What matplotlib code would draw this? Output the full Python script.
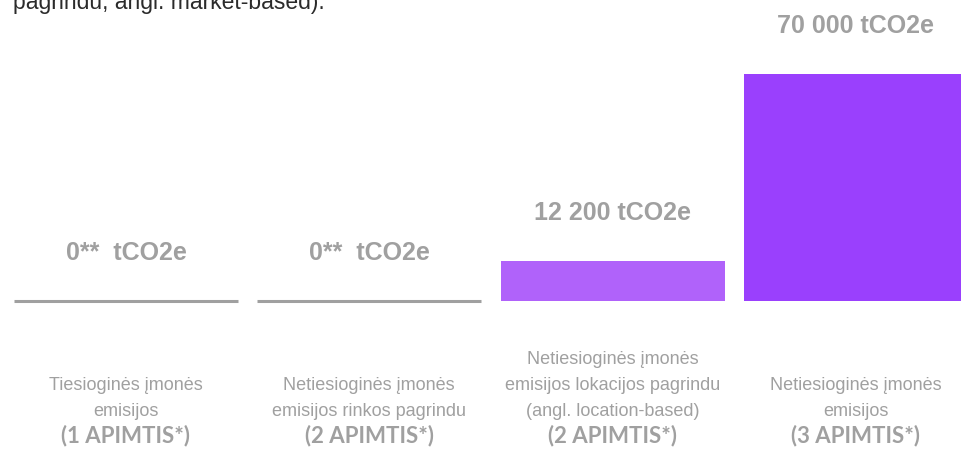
import matplotlib
matplotlib.use("Agg")
import matplotlib.pyplot as plt
import matplotlib.transforms as mtransforms

# ---- data ----
categories = ["1 APIMTIS", "2 APIMTIS (rinkos)", "2 APIMTIS (lokacijos)", "3 APIMTIS"]
values = [0, 0, 12200, 70000]
value_labels = ["0**  tCO2e", "0**  tCO2e", "12 200 tCO2e", "70 000 tCO2e"]
category_lines = [
    ["Tiesioginės įmonės", "emisijos"],
    ["Netiesioginės įmonės", "emisijos rinkos pagrindu"],
    ["Netiesioginės įmonės", "emisijos lokacijos pagrindu", "(angl. location-based)"],
    ["Netiesioginės įmonės", "emisijos"],
]
scope_labels = ["(1 APIMTIS*)", "(2 APIMTIS*)", "(2 APIMTIS*)", "(3 APIMTIS*)"]
top_text = "pagrindu, angl. market-based)."

bar_colors = ["#A0A0A0", "#A0A0A0", "#B062FA", "#9A40FD"]
gray = "#A0A0A0"

W, H = 962, 449
fig = plt.figure(figsize=(W / 100, H / 100), dpi=100)
fig.patch.set_facecolor("white")

# axes placement (pixels)
spacing = 243.3
left_px = 126 - spacing / 2
ax = fig.add_axes([left_px / W, (H - 301) / H, 4 * spacing / W, (301 - 74) / H])
ax.set_xlim(-0.5, 3.5)
ax.set_ylim(0, 70000)
ax.axis("off")

x = list(range(len(categories)))
width = 224 / spacing
ax.bar(x, values, width=width, color=bar_colors, clip_on=False)
# zero-valued bars shown as a thin gray baseline
for xi, v, c in zip(x, values, bar_colors):
    if v == 0:
        ax.hlines(v, xi - width / 2, xi + width / 2, colors=c, linewidth=2.2,
                  capstyle="butt", clip_on=False)

for xi, v, lab in zip(x, values, value_labels):
    ax.annotate(lab, (xi, v), xytext=(0, 29.5), textcoords="offset points",
                ha="center", va="baseline", fontsize=18, fontweight="bold",
                color=gray, family="Liberation Sans", annotation_clip=False)

trans = mtransforms.blended_transform_factory(ax.transData, fig.transFigure)
bold_base = 442
line_h = 25.5
for xi, lines, scope in zip(x, category_lines, scope_labels):
    ax.text(xi, (H - bold_base) / H, scope, transform=trans, ha="center",
            va="baseline", fontsize=16, fontweight="bold", color=gray,
            family="Lato", clip_on=False)
    n = len(lines)
    for k, ln in enumerate(lines):
        y_px = bold_base - 1 - line_h * (n - k)
        ax.text(xi, (H - y_px) / H, ln, transform=trans, ha="center",
                va="baseline", fontsize=13, color=gray,
                family="Liberation Sans", clip_on=False)

fig.text(13 / W, (H - 9) / H, top_text, ha="left", va="baseline",
         fontsize=16.5, color="#2b2b2b", family="Liberation Sans")

fig.savefig("out.png", dpi=100, facecolor="white")
